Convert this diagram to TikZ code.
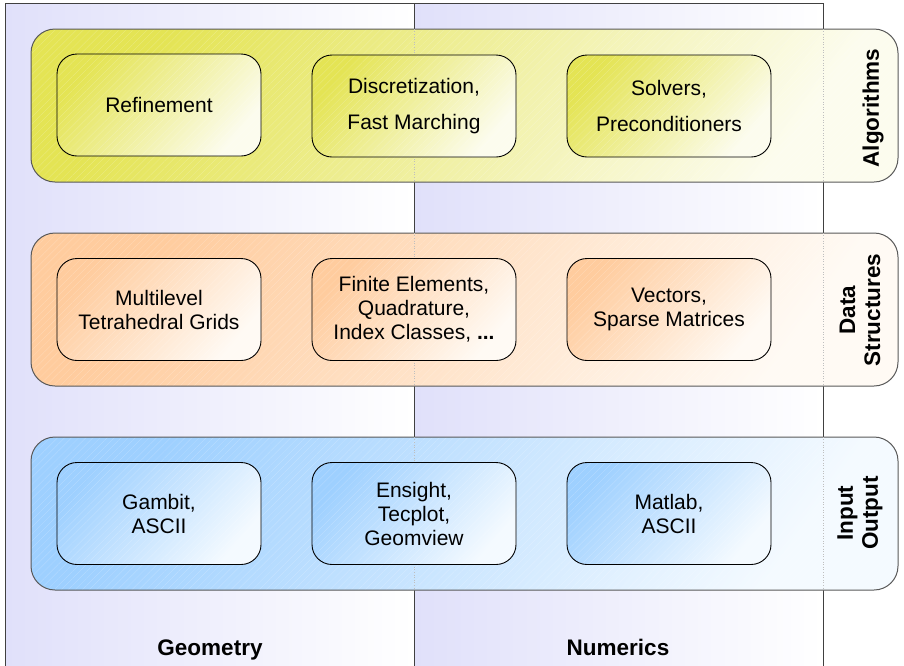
\documentclass[tikz,border=0pt]{standalone}
\usepackage{fontspec}
\setmainfont{Liberation Sans}
\usetikzlibrary{patterns.meta}
\definecolor{lav}{RGB}{224,224,250}
\definecolor{yel}{RGB}{228,228,84}
\definecolor{yelL}{RGB}{252,252,238}
\definecolor{ora}{RGB}{255,204,158}
\definecolor{oraL}{RGB}{255,250,244}
\definecolor{blu}{RGB}{158,208,255}
\definecolor{bluL}{RGB}{244,250,255}
\begin{document}
\begin{tikzpicture}[x=1pt,y=-1pt,
  colbox/.style={draw=black!75, line width=0.9pt, minimum width=409pt, minimum height=664pt, inner sep=0pt, left color=lav, right color=white},
  hatch/.style 2 args={postaction={opacity=0.25, pattern={Lines[angle=45,distance=5pt,line width=0.3pt]}, pattern color=white},
                       postaction={draw=#1, line width=#2}},
  band/.style 2 args={rounded corners=24pt, minimum width=867pt, minimum height=153pt, inner sep=0pt, top color=#1, bottom color=#2, shading angle=55, hatch={black!65}{1pt}},
  item/.style 2 args={rounded corners=20pt, minimum width=204pt, minimum height=102pt, align=center, font=\fontsize{21}{24}\selectfont, inner sep=0pt, top color=#1, bottom color=#2, shading angle=50, hatch={black}{0.9pt}},
  sidelabel/.style={rotate=90, align=center, font=\bfseries\fontsize{22.5}{25}\selectfont},
  collabel/.style={anchor=base, font=\bfseries\fontsize{22.5}{25}\selectfont},
  sep/.style={dotted, black!25, line width=0.6pt}]
\useasboundingbox (0,0) rectangle (904,665);
% columns
\node[colbox] (geo) at (209.5,335.5) {};
\node[colbox] (num) at (618.5,335.5) {};
\node[collabel] (geol) at (210,655) {Geometry};
\node[collabel] (numl) at (618,655) {Numerics};
% bands
\node[band={yel}{yelL}] (alg) at (464.5,105.5) {};
\node[band={ora}{oraL}] (ds) at (464.5,309.5) {};
\node[band={blu}{bluL}] (io) at (464.5,513.5) {};
\foreach \b in {alg,ds,io}{
  \draw[sep] (\b.north -| geo.east) -- (\b.south -| geo.east);
  \draw[sep] (\b.north -| num.east) -- (\b.south -| num.east);
}
\node[sidelabel] (algl) at (873,108) {Algorithms};
\node[sidelabel] (dsl) at (860,310) {Data\\Structures};
\node[sidelabel] (iol) at (860,513) {Input\\Output};
% algorithms
\node[item={yel}{yelL}] (a1) at (159,105) {Refinement};
\node[item={yel}{yelL}, font=\fontsize{21}{36}\selectfont] (a2) at (414,106) {Discretization,\\Fast Marching};
\node[item={yel}{yelL}, font=\fontsize{21}{36}\selectfont] (a3) at (669,106) {Solvers,\\Preconditioners};
% data structures
\node[item={ora}{oraL}] (d1) at (159,309.5) {Multilevel\\Tetrahedral Grids};
\node[item={ora}{oraL}] (d2) at (414,309.5) {Finite Elements,\\Quadrature,\\Index Classes, \textbf{...}};
\node[item={ora}{oraL}] (d3) at (669,309.5) {Vectors,\\Sparse Matrices};
% input output
\node[item={blu}{bluL}] (i1) at (159,513.5) {Gambit,\\ASCII};
\node[item={blu}{bluL}] (i2) at (414,513.5) {Ensight,\\Tecplot,\\Geomview};
\node[item={blu}{bluL}] (i3) at (669,513.5) {Matlab,\\ASCII};
\end{tikzpicture}
\end{document}
